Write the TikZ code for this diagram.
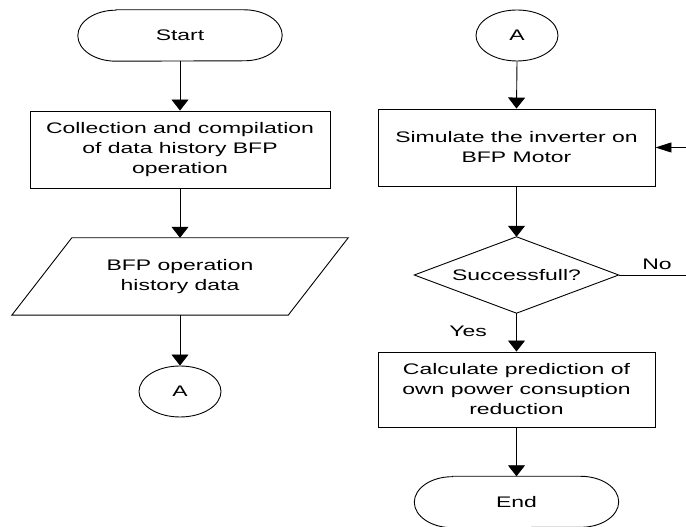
\documentclass[tikz,border=0pt]{standalone}
\usepackage{fontspec}
\setmainfont[FakeStretch=1.5]{Liberation Sans}
\usetikzlibrary{arrows.meta,shapes.geometric}
\begin{document}
\begin{tikzpicture}[x=1pt,y=1pt,
  every node/.style={font=\fontsize{15.3}{20}\selectfont, align=center, inner sep=0pt},
  line/.style={draw=black, line width=0.9pt},
  vflow/.style={line, -{Triangle[length=11pt,width=17pt]}},
  hflow/.style={line, -{Triangle[length=16pt,width=10pt]}},
  procbox/.style={line, rectangle},
  conn/.style={line, ellipse, minimum width=82pt, minimum height=51pt},
  termbox/.style={minimum width=204pt, minimum height=51pt}
]
\useasboundingbox (0,0) rectangle (686,527);
% left column
\node[termbox] (start) at (180,491.5) {Start};
\draw[line] ([xshift=38pt]start.north west) -- ([xshift=-38pt]start.north east)
  arc[start angle=90,end angle=-90,x radius=38pt,y radius=25.5pt]
  -- ([xshift=38pt]start.south west)
  arc[start angle=270,end angle=90,x radius=38pt,y radius=25.5pt] -- cycle;
\node[procbox, minimum width=300pt, minimum height=77pt] (collect) at (180,377.5)
  {Collection and compilation\\of data history BFP\\operation};
\node[minimum width=276pt, minimum height=77pt] (data) at (180,250.5)
  {BFP operation\\history data};
\draw[line] ([xshift=30pt]data.north west) -- ([xshift=30pt]data.north east)
  -- ([xshift=-30pt]data.south east) -- ([xshift=-30pt]data.south west) -- cycle;
\node[conn] (aleft) at (180,135.5) {A};
% right column
\node[conn] (aright) at (517,491.5) {A};
\node[procbox, minimum width=277pt, minimum height=77pt] (sim) at (516.5,379.5)
  {Simulate the inverter on\\BFP Motor};
\node[minimum width=204pt, minimum height=76pt] (dec) at (516.5,252) {Successfull?};
\draw[line] (dec.north) -- (dec.east) -- (dec.south) -- (dec.west) -- cycle;
\node[procbox, minimum width=277pt, minimum height=75pt] (calc) at (516.5,137.5)
  {Calculate prediction of\\own power consuption\\reduction};
\node[termbox] (end) at (516.5,25) {End};
\draw[line] ([xshift=38pt]end.north west) -- ([xshift=-38pt]end.north east)
  arc[start angle=90,end angle=-90,x radius=38pt,y radius=25.5pt]
  -- ([xshift=38pt]end.south west)
  arc[start angle=270,end angle=90,x radius=38pt,y radius=25.5pt] -- cycle;
\coordinate (noend) at (686,252);
\coordinate (backin) at (686,379.5);
% connectors
\draw[vflow] (start.south) -- (collect.north);
\draw[vflow] (collect.south) -- (data.north);
\draw[vflow] (data.south) -- (aleft.north);
\draw[vflow] (aright.south) -- (sim.north);
\draw[vflow] (sim.south) -- (dec.north);
\draw[vflow] (dec.south) -- (calc.north);
\draw[vflow] (calc.south) -- (end.north);
\draw[line] (dec.east) -- (noend);
\draw[hflow] (backin) -- (sim.east);
% labels
\node (nolabel) at (657,263) {No};
\node (yeslabel) at (468,196) {Yes};
\end{tikzpicture}
\end{document}
